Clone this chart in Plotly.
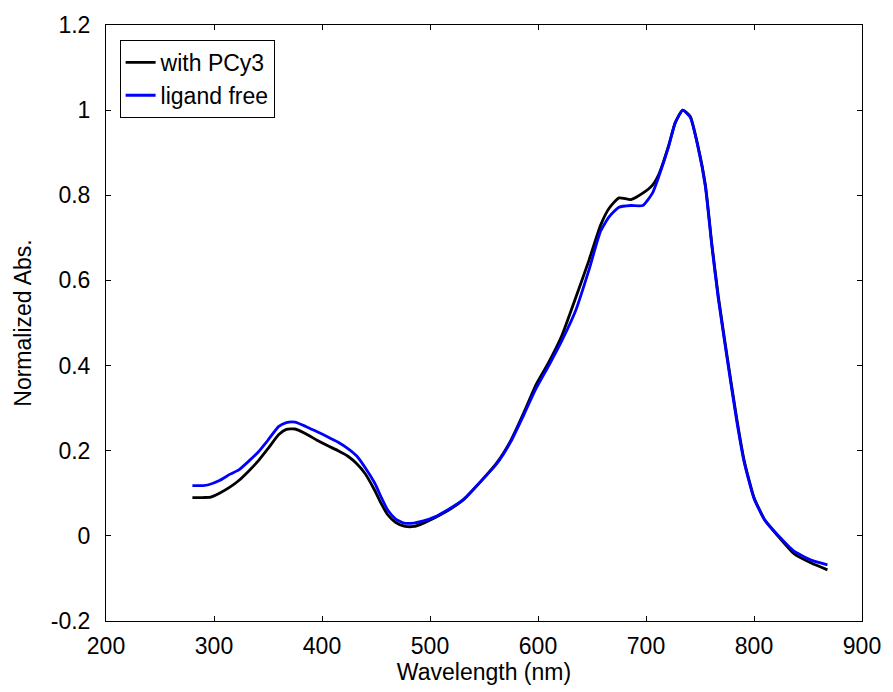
import plotly.graph_objects as go

# Wavelength (nm) and normalized absorbance
wl_pcy3 = [280, 290, 297, 305, 315, 323, 332, 341, 350, 360, 367, 375, 385, 395, 405, 415,
           424, 432, 440, 449, 455, 461, 468, 476, 485, 494, 504, 517, 531, 546, 562, 575,
           587, 598, 610, 622, 635, 647, 658, 666, 675, 686, 697, 706, 712, 721, 727, 734,
           741, 748, 755, 761, 767, 775, 784, 791, 800, 810, 822, 837, 853, 868]
abs_pcy3 = [0.090, 0.090, 0.091, 0.100, 0.115, 0.130, 0.152, 0.176, 0.205, 0.238, 0.250, 0.251,
            0.240, 0.225, 0.212, 0.200, 0.187, 0.170, 0.146, 0.106, 0.075, 0.049, 0.032, 0.023,
            0.022, 0.030, 0.042, 0.060, 0.085, 0.125, 0.172, 0.225, 0.290, 0.354, 0.408, 0.470,
            0.560, 0.646, 0.730, 0.770, 0.794, 0.790, 0.805, 0.824, 0.850, 0.917, 0.970, 1.000,
            0.985, 0.917, 0.824, 0.685, 0.562, 0.424, 0.276, 0.176, 0.090, 0.037, 0.000, -0.042,
            -0.064, -0.080]

wl_free = [280, 290, 295, 305, 315, 323, 332, 341, 350, 360, 367, 375, 385, 395, 405, 415,
           424, 432, 440, 449, 455, 461, 468, 476, 485, 494, 504, 517, 531, 546, 562, 575,
           587, 598, 610, 622, 635, 647, 658, 666, 675, 686, 697, 706, 712, 721, 727, 734,
           741, 748, 755, 761, 767, 775, 784, 791, 800, 810, 822, 837, 853, 868]
abs_free = [0.118, 0.118, 0.120, 0.130, 0.145, 0.155, 0.175, 0.197, 0.225, 0.257, 0.266, 0.267,
            0.257, 0.245, 0.233, 0.220, 0.205, 0.188, 0.160, 0.123, 0.090, 0.060, 0.040, 0.030,
            0.030, 0.035, 0.044, 0.062, 0.085, 0.125, 0.170, 0.222, 0.285, 0.345, 0.400, 0.458,
            0.530, 0.623, 0.716, 0.750, 0.772, 0.776, 0.776, 0.805, 0.845, 0.915, 0.970, 1.000,
            0.983, 0.915, 0.820, 0.680, 0.556, 0.418, 0.270, 0.172, 0.088, 0.037, 0.002, -0.036,
            -0.057, -0.068]

x_ticks = [200, 300, 400, 500, 600, 700, 800, 900]
y_ticks = [-0.2, 0, 0.2, 0.4, 0.6, 0.8, 1, 1.2]
y_tick_text = ["-0.2", "0", "0.2", "0.4", "0.6", "0.8", "1", "1.2"]

FONT = "Liberation Sans, Arial, sans-serif"
FS = 23

fig = go.Figure()
fig.add_trace(go.Scatter(x=wl_pcy3, y=abs_pcy3, mode="lines", name="with PCy3",
                         line=dict(color="black", width=2.8, shape="spline", smoothing=0.5)))
fig.add_trace(go.Scatter(x=wl_free, y=abs_free, mode="lines", name="ligand free",
                         line=dict(color="#0000ff", width=2.8, shape="spline", smoothing=0.5)))

axis_common = dict(showgrid=False, zeroline=False, showline=True, linecolor="black",
                   linewidth=1, mirror="allticks", ticks="inside", ticklen=5,
                   tickcolor="black", tickwidth=1,
                   tickfont=dict(family=FONT, size=FS, color="black"))

fig.update_xaxes(range=[200, 900], tickvals=x_ticks, ticktext=[str(v) for v in x_ticks],
                 ticklabelstandoff=4,
                 title=dict(text="Wavelength (nm)", font=dict(family=FONT, size=FS, color="black"),
                            standoff=5),
                 **axis_common)
fig.update_yaxes(range=[-0.2, 1.2], tickvals=y_ticks, ticktext=y_tick_text,
                 ticklabelstandoff=10,
                 title=dict(text="Normalized Abs.", font=dict(family=FONT, size=FS, color="black"),
                            standoff=12),
                 **axis_common)

fig.update_layout(
    width=893, height=692,
    margin=dict(l=106, r=25, t=18, b=70),
    plot_bgcolor="white", paper_bgcolor="white",
    font=dict(family=FONT, size=FS, color="black"),
    legend=dict(x=0.018, y=0.975, xanchor="left", yanchor="top",
                bordercolor="black", borderwidth=1, bgcolor="white",
                font=dict(family=FONT, size=FS, color="black"),
                entrywidth=190, entrywidthmode="pixels",
                tracegroupgap=6),
    showlegend=True,
)

fig.write_html("out.html")
